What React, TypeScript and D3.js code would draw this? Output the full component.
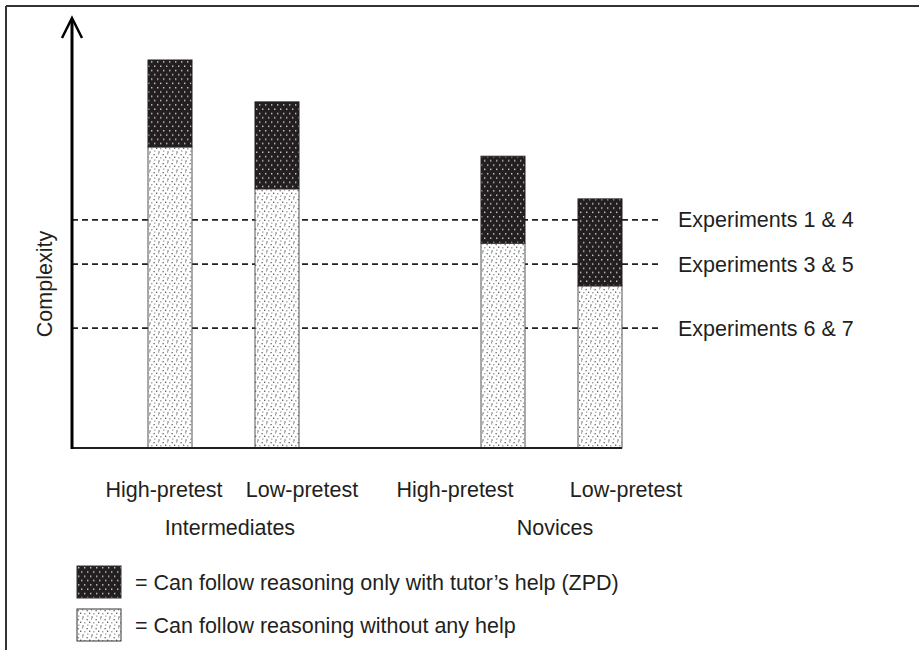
import React from "react";
import * as d3 from "d3";

// groups and conditions
const groups = ["Intermediates", "Novices"];
const pretest = ["High-pretest", "Low-pretest"];

// complexity in arbitrary units (no ticks on the axis)
const withoutHelp = [77.6, 66.8, 52.8, 41.8];
const zpd = [22.4, 22.4, 22.4, 22.4];

const experiments = ["Experiments 1 & 4", "Experiments 3 & 5", "Experiments 6 & 7"];
const experimentLevels = [58.8, 47.4, 30.9];

const legendItems = [
  "= Can follow reasoning only with tutor\u2019s help (ZPD)",
  "= Can follow reasoning without any help",
];

const W = 919;
const H = 650;
const INK = "#231f20";
const FONT = "'Liberation Sans', Arial, Helvetica, sans-serif";
const FS = 21.5;

// layout per group: half distance between the two bars, label spread / shift
const barHalfGap = [53.5, 48.5];
const labelSpread = [69, 85.5];
const labelShift = [9.5, -11];
const groupLabelShift = [6.5, 3.5];

export default function App() {
  const axisX = 72;
  const baseY = 448;

  const y = d3.scaleLinear().domain([0, 100]).range([baseY, 60]);
  const gx = d3.scalePoint<string>().domain(groups).range([223.5, 551.5]);
  const side = d3.scalePoint<string>().domain(pretest).range([-1, 1]);
  const barW = 44;

  const bars = groups.flatMap((g, gi) =>
    pretest.map((p, pi) => {
      const i = gi * 2 + pi;
      const cx = (gx(g) as number) + (side(p) as number) * barHalfGap[gi];
      return { g, p, cx, low: withoutHelp[i], top: withoutHelp[i] + zpd[i] };
    })
  );

  const lastRight = d3.max(bars, (b) => b.cx + barW / 2) as number;

  return (
    <svg width={W} height={H} style={{ position: "absolute", left: 0, top: 0 }} fontFamily={FONT}>
      <defs>
        <pattern id="darkDots" width={6} height={8.6} patternUnits="userSpaceOnUse">
          <rect width={6} height={8.6} fill={INK} />
          <rect x={1} y={1} width={1.4} height={1.4} fill="#cfcfcf" />
          <rect x={4} y={5.3} width={1.4} height={1.4} fill="#cfcfcf" />
        </pattern>
        <pattern id="lightDots" width={9} height={9} patternUnits="userSpaceOnUse">
          <rect width={9} height={9} fill="#ffffff" />
          <rect x={0.5} y={1} width={1.3} height={1.3} fill="#666" />
          <rect x={5} y={0.3} width={1.2} height={1.2} fill="#888" />
          <rect x={3} y={3.6} width={1.3} height={1.3} fill="#555" />
          <rect x={7.2} y={4.2} width={1.2} height={1.2} fill="#777" />
          <rect x={1.2} y={6.5} width={1.2} height={1.2} fill="#888" />
          <rect x={5.4} y={7.4} width={1.3} height={1.3} fill="#5a5a5a" />
        </pattern>
      </defs>

      <rect width={W} height={H} fill="#fff" />
      {/* frame */}
      <line x1={6} y1={6} x2={W} y2={6} stroke="#333" strokeWidth={2} />
      <line x1={6} y1={6} x2={6} y2={H} stroke="#333" strokeWidth={2} />

      {/* experiment reference lines */}
      {experimentLevels.map((v, i) => (
        <g key={i}>
          <line x1={axisX} x2={660} y1={y(v)} y2={y(v)} stroke={INK} strokeWidth={1.8} strokeDasharray="6,4" />
          <text x={678} y={y(v)} dy="0.35em" fontSize={FS} fill={INK}>
            {experiments[i]}
          </text>
        </g>
      ))}

      {/* bars */}
      {bars.map((b, i) => (
        <g key={i}>
          <rect x={b.cx - barW / 2} y={y(b.low)} width={barW} height={baseY - y(b.low)}
            fill="url(#lightDots)" stroke="#555" strokeWidth={1} />
          <rect x={b.cx - barW / 2} y={y(b.top)} width={barW} height={y(b.low) - y(b.top)}
            fill="url(#darkDots)" stroke={INK} strokeWidth={1} />
        </g>
      ))}

      {/* axes */}
      <line x1={axisX} x2={lastRight} y1={baseY} y2={baseY} stroke={INK} strokeWidth={2} />
      <line x1={axisX} x2={axisX} y1={baseY + 1} y2={19} stroke="#000" strokeWidth={3} />
      <path d={`M${axisX - 10},38 L${axisX},18 L${axisX + 10},38`} fill="none" stroke="#000" strokeWidth={2.5} />
      <text transform={`translate(52,${(baseY + 120) / 2}) rotate(-90)`} textAnchor="middle" fontSize={FS} fill={INK}>
        Complexity
      </text>

      {/* category labels */}
      {groups.map((g, gi) => (
        <g key={g}>
          {pretest.map((p) => (
            <text key={p} x={(gx(g) as number) + labelShift[gi] + (side(p) as number) * labelSpread[gi]} y={497}
              textAnchor="middle" fontSize={FS} fill={INK}>
              {p}
            </text>
          ))}
          <text x={(gx(g) as number) + groupLabelShift[gi]} y={535} textAnchor="middle" fontSize={FS} fill={INK}>
            {g}
          </text>
        </g>
      ))}

      {/* legend */}
      {legendItems.map((t, i) => (
        <g key={i} transform={`translate(77,${566 + i * 43})`}>
          <rect width={44} height={32} fill={i === 0 ? "url(#darkDots)" : "url(#lightDots)"} stroke="#333" strokeWidth={1} />
          <text x={58} y={16} dy="0.35em" fontSize={FS} fill={INK}>
            {t}
          </text>
        </g>
      ))}
    </svg>
  );
}
